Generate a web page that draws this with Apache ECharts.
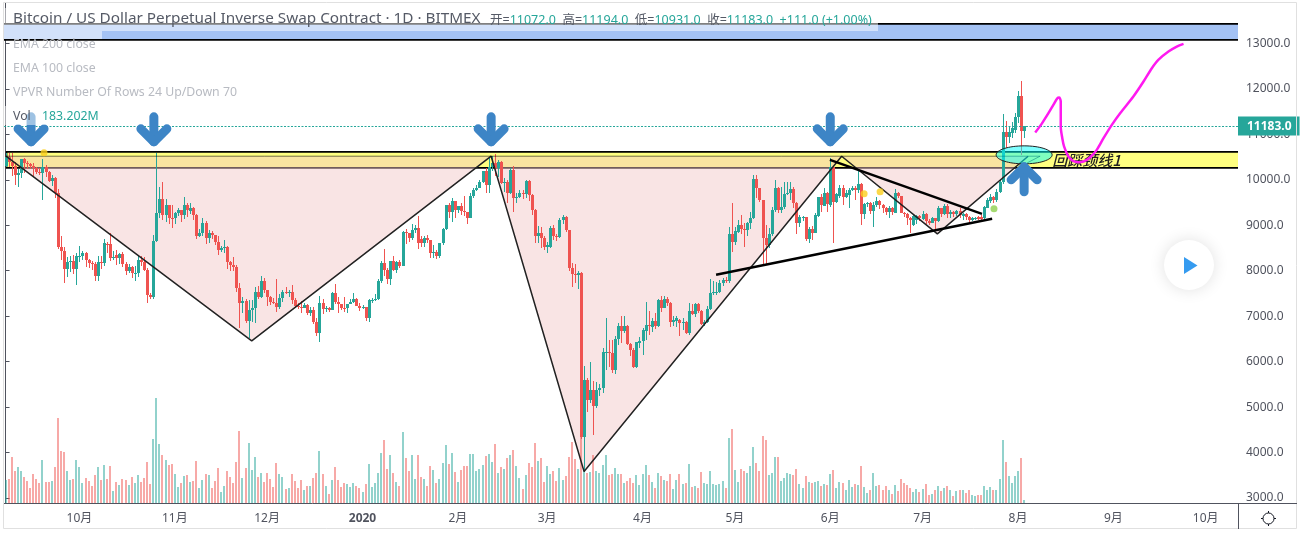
<!DOCTYPE html>
<html>
<head>
<meta charset="utf-8">
<title>XBTUSD 1D</title>
<script src="https://cdn.jsdelivr.net/npm/echarts@6/dist/echarts.min.js"></script>
<style>
html,body{margin:0;padding:0;background:#fff;}
#chart{width:1300px;height:533px;}
</style>
</head>
<body>
<div id="chart"></div>
<script>
// daily candles 2019-09-07 .. 2020-08-03
var startDate = '2019-09-07';
var opens = [
10300,10500,10400,10310,10110,10160,10450,10360,10340,10310,
10260,10180,10150,10290,10180,9980,10040,9700,8530,8440,
8040,8190,8210,8040,8300,8330,8390,8240,8170,8150,
7880,8200,8170,8590,8590,8270,8340,8290,8370,8150,
7990,8080,7950,7950,8240,8200,8020,7470,7430,8660,
9270,9570,9230,9440,9170,9150,9260,9330,9220,9450,
9320,9380,9230,8770,8830,9050,8730,8820,8780,8640,
8460,8510,8530,8190,8130,8090,7630,7290,7340,6900,
7140,7180,7530,7430,7780,7580,7420,7310,7300,7200,
7390,7540,7500,7530,7350,7220,7200,7190,7250,7070,
7130,6880,6620,7290,7150,7190,7140,7510,7320,7260,
7190,7190,7260,7310,7380,7220,7170,7210,6960,7350,
7360,7370,7770,8160,8020,7810,8220,8020,8200,8110,
8850,8820,8720,8900,8930,8700,8620,8730,8670,8390,
8420,8330,8610,8920,9440,9290,9540,9330,9420,9320,
9290,9170,9650,9770,9830,9950,10200,9880,10280,10370,
10260,10400,9930,9960,9700,10210,9610,9630,9710,9680,
9980,9670,9340,8770,8830,8720,8530,8530,8950,8770,
8750,9110,9190,8900,8050,7930,7900,7950,4350,5600,
5160,5370,5030,5370,5410,6200,6220,6190,5820,6500,
6790,6680,6790,6390,6260,5880,6420,6445,6665,6810,
6760,6885,6780,7360,7190,7370,7300,6880,6890,6920,
6850,6880,6620,7120,7040,7270,7120,6830,6870,7160,
7510,7520,7540,7730,7800,7770,8810,8640,8850,9010,
8920,8900,9040,9150,10020,9820,9550,8730,8570,8800,
9340,9820,9330,9400,9680,9720,9790,9490,9050,9170,
9180,8700,8915,8840,9210,9620,9430,9710,9450,10280,
9520,9640,9820,9620,9670,9770,9810,9780,9910,9250,
9470,9500,9320,9440,9540,9450,9380,9290,9390,9280,
9710,9640,9280,9250,9160,9010,9120,9210,9140,9250,
9090,9060,9160,9090,9380,9240,9430,9240,9300,9240,
9310,9200,9240,9190,9120,9130,9180,9180,9160,9390,
9540,9630,9550,9730,9950,11060,10950,11030,11100,11380,11850,11072];
var closes = [
10500,10400,10310,10110,10160,10450,10360,10340,10310,10260,
10180,10150,10290,10180,9980,10040,9700,8530,8440,8040,
8200,8210,8040,8320,8330,8390,8240,8170,8150,7880,
8200,8170,8610,8570,8270,8310,8290,8370,8150,7990,
8080,7950,7960,8240,8200,8020,7470,7430,8660,9270,
9570,9230,9440,9170,9160,9260,9330,9220,9450,9340,
9380,9230,8770,8830,9050,8730,8840,8780,8640,8460,
8510,8530,8190,8130,8090,7630,7290,7340,6900,7140,
7180,7530,7430,7780,7580,7420,7310,7300,7200,7390,
7540,7500,7530,7350,7220,7200,7190,7250,7070,7130,
6880,6620,7290,7150,7190,7140,7510,7320,7260,7190,
7180,7260,7310,7380,7220,7170,7210,6960,7360,7360,
7370,7770,8160,8020,7810,8220,8020,8200,8110,8850,
8820,8720,8900,8930,8600,8620,8730,8670,8390,8420,
8330,8610,8920,9440,9290,9540,9330,9420,9320,9290,
9170,9650,9780,9830,9950,10200,9880,10280,10370,10260,
10400,9930,9960,9700,10210,9610,9630,9710,9680,9980,
9670,9340,8770,8830,8720,8530,8560,8950,8760,8750,
9110,9190,8900,8050,7930,7900,7950,4350,5600,5160,
5370,5030,5370,5410,6210,6220,6190,5820,6500,6790,
6680,6790,6390,6260,5880,6440,6460,6700,6810,6780,
6885,6780,7360,7190,7370,7300,6880,6920,6960,6860,
6880,6620,7120,7040,7270,7120,6830,6880,7160,7510,
7540,7540,7730,7800,7770,8810,8640,8870,9010,8920,
8900,9040,9160,10020,9820,9550,8730,8570,8800,9340,
9820,9330,9400,9690,9720,9790,9490,9050,9180,9180,
8700,8915,8840,9230,9620,9440,9710,9460,10280,9520,
9690,9820,9620,9710,9780,9830,9770,9910,9250,9470,
9500,9320,9450,9540,9450,9380,9290,9390,9290,9710,
9640,9280,9250,9160,9120,9210,9210,9160,9250,9090,
9060,9160,9090,9380,9240,9430,9240,9300,9250,9310,
9220,9240,9190,9120,9170,9170,9140,9140,9400,9560,
9630,9550,9740,9950,11060,10950,11060,11140,11380,11850,11070,11183];
var lows = [
10280,10290,10080,9890,9850,10040,10160,10230,10240,10070,
10130,10100,9560,10060,9960,9870,9610,8470,8240,7730,
7870,7980,7920,7690,8200,8240,8080,8060,8020,7780,
7765,8040,8110,8390,8210,8240,8130,8150,8090,7900,
7960,7840,7780,7870,8100,7990,7300,7370,7380,8630,
9150,9120,9080,9030,8950,9020,9210,9070,9140,9180,
9240,9110,8700,8740,8760,8590,8600,8700,8570,8350,
8420,8380,8030,8000,7990,7530,6750,7080,6860,6520,
6880,6850,7370,7400,7520,7220,7240,7260,7100,7150,
7310,7480,7420,7270,7170,7150,7070,7180,7020,7010,
6830,6560,6430,7050,7100,7100,7130,7270,7080,7130,
7100,7060,7260,7300,7220,7110,7160,6900,6870,7280,
7340,7350,7720,7880,7700,7680,8000,7960,8070,8100,
8580,8630,8670,8830,8470,8520,8530,8610,8280,8270,
8250,8290,8570,8890,9170,9070,9150,9260,9230,9200,
9030,9160,9610,9750,9820,9940,9720,9720,10200,10090,
10060,9900,9730,9500,9680,9290,9500,9590,9570,9600,
9530,9220,8600,8600,8500,8450,8400,8500,8670,8650,
8730,9030,8850,8000,7650,7720,7600,4300,3583,4900,
5080,4390,4980,5240,5300,5820,5890,5750,5730,6370,
6400,6620,6370,6130,5860,5860,6310,6150,6480,6590,
6650,6720,6770,7100,7170,7220,6760,6780,6770,6570,
6700,6610,6590,7020,6980,7060,6800,6780,6850,7130,
7460,7470,7520,7670,7720,7730,8420,8570,8840,8800,
8530,8770,8920,9130,9590,9510,8130,8130,8490,8770,
9300,9280,9280,9350,9660,9550,9390,8810,8970,9100,
8650,8620,8680,8830,9180,9300,9420,9290,9410,8610,
9480,9610,9450,9590,9390,9750,9560,9700,9010,9130,
9400,9240,8960,9400,9350,9260,9230,9160,9230,9270,
9600,9270,9180,9000,8840,8980,9020,9100,9110,9020,
9010,9040,8880,9070,9180,9220,9150,9150,9190,9200,
9160,9120,9110,9050,9090,9110,9110,9110,9130,9380,
9500,9500,9510,9720,9900,10700,10820,10920,11020,11240,10550,10931];
var highs = [
10590,10600,10590,10400,10240,10460,10480,10420,10380,10370,
10280,10260,10460,10330,10200,10100,10060,9790,8755,8520,
8310,8330,8340,8400,8540,8440,8420,8260,8220,8190,
8320,8330,8695,8640,8830,8430,8460,8400,8420,8190,
8140,8110,8100,8320,8330,8300,8050,7510,8790,10600,
9850,9960,9570,9440,9440,9300,9380,9340,9620,9500,
9480,9400,9240,8920,9150,9090,8900,8880,8790,8770,
8540,8680,8540,8220,8300,8130,7720,7430,7370,7350,
7350,7650,7660,7880,7850,7580,7450,7400,7810,7480,
7580,7640,7570,7690,7400,7290,7330,7300,7270,7200,
7200,6950,7450,7380,7220,7200,7530,7700,7430,7270,
7430,7270,7370,7520,7390,7300,7240,7210,7380,7400,
7480,7810,8210,8480,8060,8220,8320,8220,8230,8880,
8920,8830,9020,9010,9210,8760,8770,8780,8680,8570,
8450,8620,8950,9450,9490,9590,9540,9430,9500,9650,
9300,9720,9830,9880,10000,10200,10250,10510,10530,10570,
10430,10420,10050,9990,10270,10300,9720,9780,9770,9990,
9990,9680,9350,8990,8970,8760,8640,8980,9000,8800,
9170,9230,9200,8900,8180,8150,8000,7980,5900,5640,
6000,5570,5560,5500,6300,6960,6480,6470,6570,6850,
7010,7010,6800,6420,6300,6440,6550,6740,7310,7105,
6950,7060,7370,7450,7450,7420,7310,7010,7010,6930,
6960,6900,7280,7270,7290,7300,7130,6920,7230,7820,
7770,7760,7790,7830,7860,8960,9490,8960,9120,9230,
9040,9080,9290,10110,10110,9830,9560,9000,8940,9400,
9990,9840,9850,9960,9960,9960,9840,9510,9230,9210,
9190,8970,8990,9270,9620,9690,9810,9730,10480,10280,
9720,9890,9880,9780,9830,9870,9860,10220,9930,9480,
9520,9510,9520,9620,9560,9460,9400,9420,9400,9800,
9730,9650,9300,9260,9180,9240,9230,9220,9320,9270,
9130,9180,9170,9430,9390,9470,9460,9340,9310,9340,
9380,9280,9260,9210,9190,9190,9210,9230,9430,9600,
9690,9650,9790,10000,11450,11300,11180,11270,11460,11950,12180,11194];
// volume, millions of contracts
var volumes = [
1400,1460,2780,1940,2180,1940,1580,1340,920,1760,
1460,1220,2600,1280,1280,1340,2180,5120,3140,3080,
1940,1400,1460,2600,2180,1220,1520,1340,1040,1700,
2180,1400,2300,1460,2240,740,1280,1100,1460,1400,
1100,1580,1220,1700,1280,1520,2480,1160,3860,6320,
3560,2900,2600,2300,2360,1760,980,1220,1640,1700,
1280,1340,2540,920,1400,1760,1700,920,1340,2120,
680,1040,1940,1580,1220,2480,4340,1520,2120,3620,
2000,2780,1580,1820,1280,1820,1460,980,2420,1760,
1580,860,920,1760,1340,920,1400,800,1040,1040,
1520,1820,3140,1760,1040,560,1400,2180,1400,980,
1220,1160,980,1220,1040,920,680,1160,2360,980,
1220,1820,3020,3800,2060,2900,1820,1280,1040,4280,
2720,1940,2900,1460,2900,1580,1460,1040,2240,2000,
1220,1460,2420,3500,2360,3020,1880,1280,2000,2240,
2240,2960,2960,1940,2060,2300,2840,2960,2480,3560,
1820,2180,2060,2720,2900,3200,2240,1520,860,1700,
2420,2180,3620,2540,2720,1280,2240,1760,1940,1340,
2120,1400,1640,2780,3680,2660,2060,4000,1900,1820,
1880,2900,1940,1820,2300,2900,1700,1760,2120,1760,
1760,1220,1340,1520,1220,1700,1100,1760,2300,1700,
1280,920,1820,1640,1400,1340,1760,860,1400,1760,
1160,1220,2360,980,1040,920,1880,1220,1160,1940,
1160,1100,1160,1340,920,3920,4460,2000,1280,2060,
1940,1820,2240,3380,2420,1940,4040,3800,1700,1820,
2780,2780,1340,1520,1820,1760,1700,2060,1160,920,
1640,1280,1220,1280,1340,1040,1160,1100,1760,2000,
920,1280,1220,800,1400,980,1160,1100,2240,980,
620,800,1820,1040,1100,800,1040,800,560,1100,
740,1460,1220,1100,920,680,860,680,860,1160,
500,560,800,1040,740,920,1040,800,440,740,
800,800,620,800,500,440,500,500,1040,800,
980,800,800,1460,3800,2480,1640,1220,1640,1940,2720,183];

var yTicks = [3000,4000,5000,6000,7000,8000,9000,10000,11000,12000,13000];
var monthTicks = ['2019-10-01','2019-11-01','2019-12-01','2020-01-01','2020-02-01','2020-03-01','2020-04-01','2020-05-01','2020-06-01','2020-07-01','2020-08-01','2020-09-01','2020-10-01'];
var monthLabels = ['10月','11月','12月','2020','2月','3月','4月','5月','6月','7月','8月','9月','10月'];
var lastPrice = 11183;

// drawings, x in bars from the first candle, y in price
var zoneFrom = [-3, 0];
var zoneTo = [403, 403];
var zoneLow = [13080, 10264];
var zoneHigh = [13432, 10616];
var zoneColor = ['#a4c2f4', '#ffff80'];
var patternX = [0.15, 80, 157.8, 188, 271.7, 302.8, 332.3];
var patternY = [10520, 6458, 10520, 3583, 10520, 8812, 10520];
var neckX = [0.15, 336.2, 332];
var neckY = [10520, 10520, 10374];
var wedgeLowX = [230.9, 320.6];
var wedgeLowY = [7910, 9142];
var wedgeHighX = [267.9, 317.3];
var wedgeHighY = [10440, 9252];
var dotX = [12.5, 279, 284.2, 321.2];
var dotY = [10594, 9692, 9736, 9362];
var dotColor = ['#fbce1c', '#fbce1c', '#fbce1c', '#8fd14f'];
var arrowX = [8.3, 48.2, 157.8, 268, 331];
var arrowY = [10748, 10748, 10748, 10748, 10374];
var arrowDir = [1, 1, 1, 1, -1];
var ellipseX = 331;
var ellipseY = 10550;
var noteX = 340.1;
var noteY = 10440;
var noteText = '回踩颈线1';
var curveX = [334.6,336.7,338.9,340.5,341.8,342.4,342.9,342.9,343.4,344,345.4,347,348.6,350.3,352.4,354.6,356.8,359.5,362.2,366.5,369.8,372.5,374.6,377.9,380.6,382.8];
var curveY = [11041,11232,11466,11650,11797,11811,11723,11173,10917,10733,10513,10411,10389,10403,10491,10660,10917,11210,11466,11833,12163,12457,12640,12823,12933,12992];

var UP = '#26a69a', DOWN = '#ef5350', TEXT = '#50535e';
var FONT = '"Noto Sans","Noto Sans CJK SC",sans-serif';

var categories = [];
(function () {
    var t = Date.parse(startDate + 'T00:00:00Z');
    for (var i = 0; i < 401; i++) {
        categories.push(new Date(t + i * 86400000).toISOString().slice(0, 10));
    }
})();

function xy(xs, ys) {
    return xs.map(function (x, i) {
        return [x, ys[i]];
    });
}

function renderZone(params, api) {
    var a = api.coord([api.value(0), api.value(3)]);
    var b = api.coord([api.value(1), api.value(2)]);
    return {
        type: 'rect',
        shape: {x: a[0] + 1, y: a[1], width: b[0] - a[0] - 1, height: b[1] - a[1]},
        style: {fill: zoneColor[params.dataIndex], stroke: '#000', lineWidth: 1.6}
    };
}

function renderTriangles(params, api) {
    // every second pattern point is the trough of one pink triangle
    var children = [];
    for (var i = 0; i + 2 < patternX.length; i += 2) {
        children.push({
            type: 'polygon',
            shape: {points: [
                api.coord([patternX[i], patternY[i]]),
                api.coord([patternX[i + 1], patternY[i + 1]]),
                api.coord([patternX[i + 2], patternY[i + 2]])
            ]},
            style: {fill: 'rgba(242,197,197,0.465)'}
        });
    }
    return {type: 'group', children: children};
}

// volume bars snapped to whole pixels so they stay 2px wide and crisp
function renderVolume(params, api) {
    var i = api.value(0);
    var top = api.coord([i, api.value(1)]);
    var base = api.coord([i, 0]);
    return {
        type: 'rect',
        shape: {x: Math.round(top[0] - 1), y: Math.round(top[1]), width: 2, height: Math.round(base[1]) - Math.round(top[1])},
        style: {fill: closes[i] >= opens[i] ? 'rgba(38,166,154,0.5)' : 'rgba(239,83,80,0.5)'}
    };
}

// same for candles: 3px body and 1px wick on whole pixels
function renderCandle(params, api) {
    var i = api.value(0);
    var o = api.coord([i, api.value(1)]);
    var c = api.coord([i, api.value(2)]);
    var l = api.coord([i, api.value(3)]);
    var h = api.coord([i, api.value(4)]);
    var left = Math.floor(o[0] - 0.5);
    var color = api.value(2) >= api.value(1) ? UP : DOWN;
    var top = Math.round(Math.min(o[1], c[1]));
    var bottom = Math.round(Math.max(o[1], c[1]));
    return {
        type: 'group',
        children: [
            {type: 'rect', shape: {x: left + 1, y: Math.round(h[1]), width: 1, height: Math.round(l[1]) - Math.round(h[1])}, style: {fill: color}},
            {type: 'rect', shape: {x: left, y: top, width: 3, height: Math.max(bottom - top, 1)}, style: {fill: color}}
        ]
    };
}

function renderArrow(params, api) {
    var p = api.coord([api.value(0), api.value(1)]);
    var d = api.value(2);
    var tip = p[1] - d * 4;
    var st = {stroke: '#3d85c6', fill: 'none', lineWidth: 9, lineCap: 'round', lineJoin: 'round'};
    return {
        type: 'group',
        children: [
            {type: 'polyline', shape: {points: [[p[0], tip], [p[0], tip - d * 25]]}, style: st},
            {type: 'polyline', shape: {points: [[p[0] - 13, tip - d * 13], [p[0], tip], [p[0] + 13, tip - d * 13]]}, style: st}
        ]
    };
}

function renderEllipse(params, api) {
    var p = api.coord([api.value(0), api.value(1)]);
    return {
        type: 'ellipse',
        shape: {cx: p[0], cy: p[1], rx: 28, ry: 9},
        style: {fill: 'rgba(0,255,255,0.5)', stroke: '#222', lineWidth: 1}
    };
}

function renderNote(params, api) {
    var p = api.coord([api.value(0), api.value(1)]);
    return {
        type: 'text',
        style: {
            x: p[0], y: p[1], text: noteText, fill: '#222',
            font: 'italic 500 15px "Noto Sans CJK SC"', textVerticalAlign: 'middle'
        }
    };
}

function label(x, y, text, color, size, weight) {
    return {
        type: 'text', x: x, y: y, z: 60,
        style: {text: text, fill: color, font: (weight || 'normal') + ' ' + size + 'px ' + FONT, textVerticalAlign: 'middle'}
    };
}

var myChart = echarts.init(document.getElementById('chart'));
var option = {
    backgroundColor: '#fff',
    animation: false,
    textStyle: {fontFamily: FONT},
    grid: {left: 4, right: 62, top: 3, bottom: 30, containLabel: false},
    xAxis: [{
        type: 'category',
        data: categories,
        boundaryGap: true,
        axisLine: {lineStyle: {color: TEXT, width: 1}},
        axisTick: {
            alignWithLabel: true, length: 4, lineStyle: {color: TEXT},
            interval: function (i, v) { return monthTicks.indexOf(v) >= 0; }
        },
        axisLabel: {
            color: TEXT, fontSize: 12, margin: 10,
            interval: function (i, v) { return monthTicks.indexOf(v) >= 0; },
            formatter: function (v) {
                var s = monthLabels[monthTicks.indexOf(v)];
                return s === '2020' ? '{b|2020}' : s;
            },
            rich: {b: {fontWeight: 'bold', color: TEXT, fontSize: 12}}
        },
        splitLine: {show: false}
    }, {
        type: 'value', min: -0.5, max: 400.5, show: false, splitLine: {show: false}
    }],
    yAxis: [{
        type: 'value', position: 'right', scale: true, min: 2890, max: 13891,
        axisLine: {show: true, lineStyle: {color: TEXT, width: 1}},
        axisTick: {show: true, length: 4, lineStyle: {color: TEXT}, customValues: yTicks},
        axisLabel: {
            color: TEXT, fontSize: 12, margin: 8, padding: [2, 0, 0, 0], customValues: yTicks,
            formatter: function (v) { return v.toFixed(1); }
        },
        splitLine: {show: false}
    }, {
        type: 'value', min: 0, max: 30000, show: false, splitLine: {show: false}
    }],
    series: [
        {type: 'custom', name: 'zones', xAxisIndex: 1, yAxisIndex: 0, z: 1, silent: true, clip: true,
            renderItem: renderZone,
            data: zoneFrom.map(function (f, i) { return [f, zoneTo[i], zoneLow[i], zoneHigh[i]]; })},
        {type: 'custom', name: 'pattern fill', xAxisIndex: 1, yAxisIndex: 0, z: 2, silent: true,
            renderItem: renderTriangles, data: [[0, 10000]]},
        {type: 'custom', name: 'Vol', xAxisIndex: 0, yAxisIndex: 1, z: 3, silent: true,
            renderItem: renderVolume,
            encode: {x: 0, y: 1},
            data: volumes.map(function (v, i) { return [i, v]; })},
        {type: 'custom', name: 'XBTUSD', xAxisIndex: 0, yAxisIndex: 0, z: 4, silent: true,
            renderItem: renderCandle,
            encode: {x: 0, y: [1, 2, 3, 4]},
            data: opens.map(function (o, i) { return [i, o, closes[i], lows[i], highs[i]]; })},
        {type: 'line', name: 'pattern', xAxisIndex: 1, yAxisIndex: 0, z: 5, symbol: 'none',
            lineStyle: {color: '#222', width: 1.5}, data: xy(patternX, patternY),
            markLine: {
                silent: true, symbol: 'none', animation: false,
                lineStyle: {color: UP, type: [2, 1.5], width: 1},
                label: {
                    position: 'end', distance: 0, formatter: function () { return lastPrice.toFixed(1); },
                    color: '#fff', fontWeight: 'bold', fontSize: 12, backgroundColor: UP,
                    padding: [4, 8, 3, 9], fontFamily: FONT
                },
                data: [{yAxis: lastPrice}]
            }},
        {type: 'line', name: 'neck', xAxisIndex: 1, yAxisIndex: 0, z: 5, symbol: 'none',
            lineStyle: {color: 'rgba(0,0,0,0.55)', width: 1}, data: xy(neckX, neckY)},
        {type: 'line', name: 'wedge low', xAxisIndex: 1, yAxisIndex: 0, z: 5, symbol: 'none',
            lineStyle: {color: '#000', width: 2.5}, data: xy(wedgeLowX, wedgeLowY)},
        {type: 'line', name: 'wedge high', xAxisIndex: 1, yAxisIndex: 0, z: 5, symbol: 'none',
            lineStyle: {color: '#000', width: 2.5}, data: xy(wedgeHighX, wedgeHighY)},
        {type: 'scatter', name: 'dots', xAxisIndex: 1, yAxisIndex: 0, z: 6, symbolSize: 7,
            data: dotX.map(function (x, i) {
                return {value: [x, dotY[i]], itemStyle: {color: dotColor[i]}};
            })},
        {type: 'custom', name: 'ellipse', xAxisIndex: 1, yAxisIndex: 0, z: 6, silent: true,
            renderItem: renderEllipse, data: [[ellipseX, ellipseY]]},
        {type: 'custom', name: 'arrows', xAxisIndex: 1, yAxisIndex: 0, z: 7, silent: true,
            renderItem: renderArrow,
            data: arrowX.map(function (x, i) { return [x, arrowY[i], arrowDir[i]]; })},
        {type: 'custom', name: 'note', xAxisIndex: 1, yAxisIndex: 0, z: 7, silent: true, clip: false,
            renderItem: renderNote, data: [[noteX, noteY]]},
        {type: 'line', name: 'curve', xAxisIndex: 1, yAxisIndex: 0, z: 8, symbol: 'none', smooth: 0.3,
            lineStyle: {color: '#ff19f0', width: 2.5}, data: xy(curveX, curveY)}
    ],
    graphic: {elements: [
        // page frame and the parts of the axes outside the grid
        {type: 'rect', z: 50, shape: {x: 3.5, y: 2.5, width: 1293, height: 526}, style: {fill: 'none', stroke: '#e0e0e0', lineWidth: 1}},
        {type: 'line', z: 51, shape: {x1: 1238, y1: 503.5, x2: 1297, y2: 503.5}, style: {stroke: TEXT, lineWidth: 1}},
        {type: 'line', z: 51, shape: {x1: 1238.5, y1: 503, x2: 1238.5, y2: 529}, style: {stroke: TEXT, lineWidth: 1}},
        // legend backdrop
        {type: 'rect', z: 55, shape: {x: 4, y: 8, width: 874, height: 23}, style: {fill: 'rgba(255,255,255,0.5)'}},
        {type: 'rect', z: 55, shape: {x: 4, y: 31, width: 98, height: 8}, style: {fill: 'rgba(255,255,255,0.5)'}},
        {type: 'rect', z: 55, shape: {x: 4, y: 106, width: 96, height: 19}, style: {fill: 'rgba(255,255,255,0.5)'}},
        label(13, 19, 'Bitcoin / US Dollar Perpetual Inverse Swap Contract · 1D · BITMEX', '#555a66', 15.3),
        {type: 'text', x: 490, y: 20, z: 60, style: {
            text: '{g|开=}{t|11072.0}  {g|高=}{t|11194.0}  {g|低=}{t|10931.0}  {g|收=}{t|11183.0}  {t|+111.0 (+1.00%)}',
            textVerticalAlign: 'middle', font: '12.5px ' + FONT,
            rich: {g: {fill: '#555a66', fontSize: 12.5, fontFamily: FONT}, t: {fill: UP, fontSize: 12.5, fontFamily: FONT}}
        }},
        label(13, 44, 'EMA 200 close', '#b8bbc2', 12.3),
        label(13, 68, 'EMA 100 close', '#b8bbc2', 12.3),
        label(13, 92, 'VPVR Number Of Rows 24 Up/Down 70', '#b8bbc2', 12.3),
        label(13, 116, 'Vol', '#555a66', 12.3),
        label(42, 116, '183.202M', UP, 12.3),
        // play button
        {type: 'circle', z: 56, shape: {cx: 1189, cy: 265, r: 25}, style: {fill: '#fff', shadowBlur: 16, shadowColor: 'rgba(0,0,0,0.12)'}},
        {type: 'polygon', z: 57, shape: {points: [[1184, 257], [1197.5, 265.5], [1184, 274]]}, style: {fill: '#359bf0'}},
        // settings icon
        {type: 'circle', z: 56, shape: {cx: 1268.5, cy: 518.5, r: 5.5}, style: {fill: 'none', stroke: '#131722', lineWidth: 1}},
        {type: 'line', z: 56, shape: {x1: 1268.5, y1: 511, x2: 1268.5, y2: 526}, style: {stroke: '#131722', lineWidth: 1, lineDash: [2, 11]}},
        {type: 'line', z: 56, shape: {x1: 1261, y1: 518.5, x2: 1276, y2: 518.5}, style: {stroke: '#131722', lineWidth: 1, lineDash: [2, 11]}}
    ]}
};

if (option && typeof option === "object") {
    myChart.setOption(option, true);
}
</script>
</body>
</html>
